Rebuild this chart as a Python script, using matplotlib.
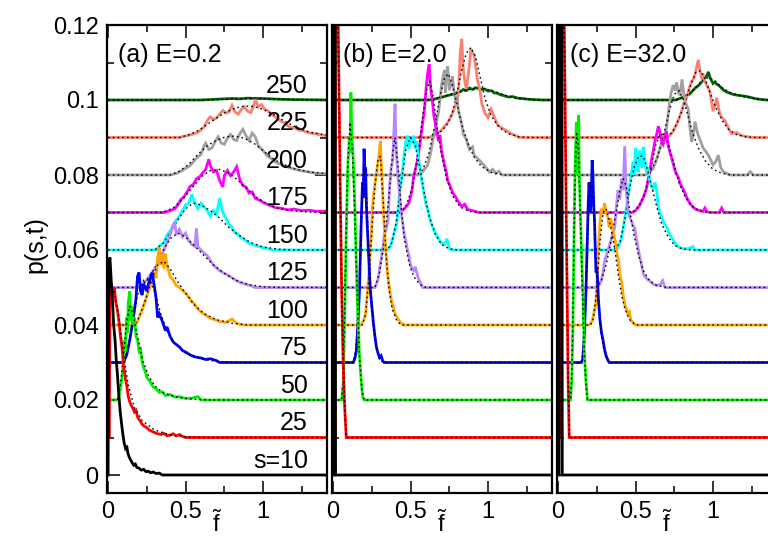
import matplotlib.pyplot as plt
import numpy as np

plt.rcParams['font.family'] = ['Liberation Sans', 'DejaVu Sans']
plt.rcParams['mathtext.fontset'] = 'custom'
plt.rcParams['mathtext.rm'] = 'Liberation Sans'
plt.rcParams['mathtext.it'] = 'Liberation Sans:italic'

# sizes s, vertical shift of each curve, colours
s_labels = ['s=10', '25', '50', '75', '100', '125', '150', '175', '200', '225', '250']
shifts = [0.0, 0.01, 0.02, 0.03, 0.04, 0.05, 0.06, 0.07, 0.08, 0.09, 0.10]
colors = ['black', '#ff0000', '#00ee00', '#0000ff', '#ffa500', '#b888f8',
          '#00ffff', '#ff00ff', '#a0a0a0', '#fa8072', '#006400']
titles = ['(a) E=0.2', '(b) E=2.0', '(c) E=32.0']

# ---------------- panel (a) E=0.2, pairs (f, p) ----------------
a10 = [(0.0, 0.0), (0.005, 0.056), (0.012, 0.058), (0.02, 0.052), (0.028, 0.047), (0.036, 0.040),
       (0.045, 0.036), (0.052, 0.031), (0.06, 0.027), (0.068, 0.022), (0.078, 0.017), (0.086, 0.014),
       (0.095, 0.011), (0.104, 0.0085), (0.112, 0.0072), (0.12, 0.0078), (0.128, 0.0058), (0.136, 0.0048),
       (0.146, 0.0040), (0.156, 0.0032), (0.166, 0.0026), (0.176, 0.0029), (0.186, 0.0020), (0.2, 0.0018),
       (0.215, 0.0013), (0.23, 0.0015), (0.245, 0.0009), (0.26, 0.0010), (0.275, 0.0006), (0.29, 0.0008),
       (0.31, 0.0004), (0.33, 0.0005), (0.35, 0.0), (1.42, 0.0)]
a25 = [(0.0, 0.0), (0.008, 0.0), (0.012, 0.039), (0.02, 0.041), (0.03, 0.038), (0.04, 0.040), (0.05, 0.036),
       (0.06, 0.034), (0.07, 0.031), (0.08, 0.027), (0.09, 0.024), (0.1, 0.019), (0.11, 0.016), (0.12, 0.014),
       (0.13, 0.011), (0.14, 0.0095), (0.15, 0.0085), (0.16, 0.0078), (0.17, 0.0068), (0.18, 0.0072),
       (0.19, 0.0055), (0.2, 0.0048), (0.21, 0.0042), (0.22, 0.0035), (0.235, 0.0030), (0.25, 0.0026),
       (0.265, 0.0020), (0.28, 0.0017), (0.3, 0.0013), (0.32, 0.0010), (0.34, 0.0008), (0.36, 0.0011),
       (0.38, 0.0005), (0.40, 0.0006), (0.42, 0.0010), (0.44, 0.0004), (0.46, 0.0008), (0.48, 0.0003),
       (0.5, 0.0), (1.42, 0.0)]
a50 = [(0.0, 0.0), (0.06, 0.0), (0.07, 0.001), (0.08, 0.003), (0.09, 0.006), (0.1, 0.011), (0.105, 0.016),
       (0.11, 0.013), (0.12, 0.022), (0.125, 0.018), (0.13, 0.026), (0.14, 0.029), (0.145, 0.021),
       (0.15, 0.025), (0.16, 0.020), (0.17, 0.022), (0.18, 0.017), (0.19, 0.016), (0.2, 0.013),
       (0.21, 0.0135), (0.22, 0.010), (0.23, 0.0085), (0.24, 0.0075), (0.25, 0.006), (0.27, 0.005),
       (0.29, 0.0035), (0.31, 0.003), (0.33, 0.002), (0.35, 0.0022), (0.37, 0.0012), (0.4, 0.0015),
       (0.43, 0.0008), (0.46, 0.0009), (0.5, 0.0004), (0.54, 0.0005), (0.58, 0.0009), (0.6, 0.0), (1.42, 0.0)]
a75 = [(0.0, 0.0), (0.1, 0.0), (0.12, 0.002), (0.13, 0.004), (0.14, 0.006), (0.15, 0.0085), (0.16, 0.011),
       (0.17, 0.014), (0.18, 0.017), (0.19, 0.023), (0.2, 0.024), (0.21, 0.019), (0.22, 0.018), (0.23, 0.021),
       (0.24, 0.020), (0.25, 0.019), (0.26, 0.021), (0.27, 0.022), (0.285, 0.024), (0.3, 0.020), (0.31, 0.017),
       (0.32, 0.012), (0.33, 0.013), (0.35, 0.011), (0.37, 0.0085), (0.38, 0.0095), (0.4, 0.007),
       (0.42, 0.0055), (0.44, 0.0048), (0.46, 0.0042), (0.48, 0.0032), (0.5, 0.0028), (0.53, 0.002),
       (0.56, 0.0015), (0.6, 0.0012), (0.63, 0.0008), (0.66, 0.001), (0.7, 0.0005), (0.72, 0.0), (1.42, 0.0)]
a100 = [(0.0, 0.0), (0.18, 0.0), (0.2, 0.002), (0.22, 0.004), (0.24, 0.0065), (0.26, 0.009), (0.28, 0.011),
        (0.3, 0.014), (0.31, 0.0125), (0.32, 0.018), (0.33, 0.0205), (0.34, 0.016), (0.35, 0.019),
        (0.36, 0.015), (0.37, 0.019), (0.38, 0.016), (0.4, 0.013), (0.42, 0.012), (0.44, 0.0105),
        (0.46, 0.010), (0.48, 0.0092), (0.5, 0.0085), (0.52, 0.0075), (0.54, 0.0062), (0.56, 0.0055),
        (0.58, 0.0042), (0.6, 0.0035), (0.63, 0.0026), (0.66, 0.0018), (0.69, 0.0014), (0.72, 0.0009),
        (0.76, 0.0007), (0.8, 0.0016), (0.83, 0.0004), (0.87, 0.0), (1.42, 0.0)]
a125 = [(0.0, 0.0), (0.2, 0.0), (0.25, 0.002), (0.3, 0.005), (0.33, 0.007), (0.36, 0.010), (0.38, 0.012),
        (0.4, 0.014), (0.42, 0.0165), (0.43, 0.0175), (0.44, 0.014), (0.46, 0.0155), (0.48, 0.0135),
        (0.5, 0.0145), (0.52, 0.0125), (0.54, 0.0115), (0.56, 0.011), (0.57, 0.0158), (0.58, 0.0108),
        (0.6, 0.010), (0.62, 0.0092), (0.64, 0.0085), (0.66, 0.0072), (0.68, 0.006), (0.7, 0.0052),
        (0.72, 0.0045), (0.74, 0.004), (0.77, 0.0034), (0.8, 0.0026), (0.83, 0.0018), (0.86, 0.0012),
        (0.89, 0.0009), (0.92, 0.0005), (0.95, 0.0), (1.42, 0.0)]
a150 = [(0.0, 0.0), (0.31, 0.0), (0.33, 0.001), (0.36, 0.002), (0.38, 0.004), (0.4, 0.005), (0.42, 0.0065),
        (0.44, 0.008), (0.46, 0.009), (0.48, 0.0105), (0.5, 0.012), (0.52, 0.0125), (0.54, 0.0148),
        (0.56, 0.0125), (0.58, 0.011), (0.6, 0.0125), (0.62, 0.0115), (0.64, 0.0105), (0.66, 0.009),
        (0.68, 0.0105), (0.7, 0.0095), (0.72, 0.0138), (0.74, 0.010), (0.76, 0.0085), (0.78, 0.0068),
        (0.8, 0.006), (0.82, 0.0045), (0.84, 0.0042), (0.86, 0.0032), (0.88, 0.0028), (0.9, 0.002),
        (0.93, 0.0015), (0.96, 0.0011), (1.0, 0.0006), (1.03, 0.0004), (1.06, 0.0), (1.42, 0.0)]
a175 = [(0.0, 0.0), (0.36, 0.0), (0.4, 0.0005), (0.43, 0.001), (0.45, 0.002), (0.47, 0.0035), (0.49, 0.0042),
        (0.51, 0.0055), (0.53, 0.007), (0.55, 0.0075), (0.57, 0.009), (0.59, 0.0095), (0.61, 0.0105),
        (0.63, 0.0115), (0.65, 0.0142), (0.66, 0.0125), (0.68, 0.0108), (0.7, 0.0112), (0.72, 0.0085),
        (0.74, 0.0068), (0.75, 0.0098), (0.77, 0.0112), (0.79, 0.0098), (0.81, 0.0108), (0.83, 0.0122),
        (0.85, 0.0088), (0.87, 0.0072), (0.89, 0.0068), (0.91, 0.0052), (0.93, 0.0055), (0.95, 0.0038),
        (0.98, 0.0032), (1.01, 0.0025), (1.04, 0.002), (1.08, 0.0013), (1.12, 0.0011), (1.16, 0.0007),
        (1.2, 0.0009), (1.25, 0.0005), (1.3, 0.0006), (1.35, 0.0003), (1.42, 0.0004)]
a200 = [(0.0, 0.0), (0.4, 0.0), (0.44, 0.0004), (0.48, 0.0012), (0.5, 0.0018), (0.52, 0.0022), (0.54, 0.003),
        (0.56, 0.004), (0.58, 0.0048), (0.6, 0.0055), (0.62, 0.0078), (0.63, 0.0085), (0.65, 0.0068),
        (0.67, 0.0072), (0.69, 0.0088), (0.71, 0.0102), (0.73, 0.0085), (0.75, 0.0082), (0.77, 0.0098),
        (0.79, 0.0108), (0.81, 0.0095), (0.83, 0.0092), (0.85, 0.011), (0.87, 0.0122), (0.89, 0.0105),
        (0.91, 0.0092), (0.93, 0.0112), (0.95, 0.0102), (0.97, 0.0078), (1.0, 0.0065), (1.03, 0.005),
        (1.06, 0.0042), (1.09, 0.0032), (1.12, 0.0028), (1.16, 0.0021), (1.2, 0.0016), (1.24, 0.0012),
        (1.28, 0.0009), (1.32, 0.0006), (1.36, 0.0004), (1.42, 0.0003)]
a225 = [(0.0, 0.0), (0.46, 0.0), (0.5, 0.0004), (0.54, 0.0008), (0.57, 0.0012), (0.6, 0.002), (0.62, 0.0028),
        (0.64, 0.0045), (0.66, 0.0055), (0.68, 0.0048), (0.7, 0.0052), (0.72, 0.0062), (0.74, 0.0072),
        (0.76, 0.0065), (0.78, 0.0068), (0.8, 0.0086), (0.82, 0.0068), (0.84, 0.0062), (0.86, 0.0075),
        (0.88, 0.0082), (0.9, 0.007), (0.92, 0.0066), (0.94, 0.0085), (0.95, 0.0102), (0.97, 0.0082),
        (0.99, 0.0088), (1.01, 0.0076), (1.03, 0.0072), (1.05, 0.0064), (1.08, 0.0055), (1.11, 0.0045),
        (1.14, 0.0038), (1.17, 0.0028), (1.2, 0.0026), (1.23, 0.002), (1.26, 0.0018), (1.3, 0.0012),
        (1.34, 0.001), (1.38, 0.0006), (1.42, 0.0005)]
a250 = [(0.0, 0.0), (0.6, 0.0), (0.7, 0.0002), (0.8, 0.0004), (0.85, 0.0003), (0.9, 0.0005), (0.95, 0.0004),
        (1.0, 0.0004), (1.1, 0.0002), (1.2, 0.0001), (1.42, 0.0)]

a25_fit = [(0.0, 0.0), (0.01, 0.040), (0.04, 0.039), (0.07, 0.032), (0.1, 0.022), (0.13, 0.014), (0.17, 0.008),
           (0.22, 0.0045), (0.3, 0.002), (0.4, 0.0007), (0.5, 0.0002), (0.6, 0.0), (1.42, 0.0)]
a50_fit = [(0.0, 0.0), (0.06, 0.0), (0.08, 0.004), (0.1, 0.012), (0.12, 0.021), (0.14, 0.025), (0.16, 0.023),
           (0.19, 0.017), (0.22, 0.011), (0.26, 0.0065), (0.3, 0.0038), (0.36, 0.0018), (0.45, 0.0007),
           (0.55, 0.0002), (0.65, 0.0), (1.42, 0.0)]
a75_fit = [(0.0, 0.0), (0.1, 0.0), (0.13, 0.004), (0.16, 0.011), (0.19, 0.018), (0.23, 0.022), (0.27, 0.022),
           (0.3, 0.019), (0.34, 0.013), (0.38, 0.0085), (0.43, 0.005), (0.5, 0.0025), (0.6, 0.001),
           (0.7, 0.0003), (0.8, 0.0), (1.42, 0.0)]
a100_fit = [(0.0, 0.0), (0.17, 0.0), (0.2, 0.002), (0.24, 0.0065), (0.28, 0.012), (0.32, 0.016), (0.36, 0.017),
            (0.4, 0.015), (0.45, 0.0115), (0.5, 0.0085), (0.56, 0.0052), (0.62, 0.003), (0.7, 0.0014),
            (0.8, 0.0005), (0.9, 0.0), (1.42, 0.0)]
a125_fit = [(0.0, 0.0), (0.2, 0.0), (0.25, 0.002), (0.3, 0.005), (0.35, 0.0095), (0.4, 0.013), (0.45, 0.0145),
            (0.5, 0.0135), (0.56, 0.011), (0.62, 0.0085), (0.68, 0.006), (0.75, 0.0038), (0.82, 0.002),
            (0.9, 0.0008), (1.0, 0.0002), (1.1, 0.0), (1.42, 0.0)]
a150_fit = [(0.0, 0.0), (0.3, 0.0), (0.35, 0.0015), (0.4, 0.0045), (0.45, 0.008), (0.5, 0.011), (0.55, 0.0125),
            (0.6, 0.012), (0.66, 0.0105), (0.72, 0.0085), (0.78, 0.006), (0.85, 0.0038), (0.92, 0.002),
            (1.0, 0.0008), (1.1, 0.0002), (1.2, 0.0), (1.42, 0.0)]
a175_fit = [(0.0, 0.0), (0.35, 0.0), (0.42, 0.0012), (0.48, 0.0035), (0.54, 0.0065), (0.6, 0.0095),
            (0.66, 0.0112), (0.72, 0.0115), (0.78, 0.0105), (0.84, 0.0085), (0.9, 0.0062), (0.96, 0.004),
            (1.03, 0.0022), (1.1, 0.0011), (1.2, 0.0004), (1.3, 0.0001), (1.42, 0.0)]
a200_fit = [(0.0, 0.0), (0.4, 0.0), (0.46, 0.001), (0.52, 0.0028), (0.58, 0.0055), (0.64, 0.0078),
            (0.7, 0.0093), (0.76, 0.0102), (0.82, 0.0104), (0.88, 0.0098), (0.94, 0.0085), (1.0, 0.0065),
            (1.06, 0.0045), (1.12, 0.003), (1.2, 0.0017), (1.3, 0.0008), (1.42, 0.0003)]
a225_fit = [(0.0, 0.0), (0.46, 0.0), (0.52, 0.0007), (0.58, 0.0018), (0.64, 0.0035), (0.7, 0.0052),
            (0.76, 0.0068), (0.82, 0.0078), (0.88, 0.0084), (0.94, 0.0083), (1.0, 0.0075), (1.06, 0.0063),
            (1.12, 0.0048), (1.2, 0.003), (1.3, 0.0014), (1.42, 0.0006)]
a250_fit = [(0.0, 0.0), (0.6, 0.0), (0.8, 0.0003), (0.95, 0.0004), (1.1, 0.0002), (1.42, 0.0)]

# ---------------- panel (b) E=2.0 ----------------
b10 = [(0.0, 0.0), (0.003, 0.3), (0.01, 0.3), (0.016, 0.0), (1.42, 0.0)]
b25 = [(0.0, 0.0), (0.012, 0.0), (0.018, 0.2), (0.03, 0.12), (0.045, 0.07), (0.055, 0.04), (0.065, 0.02),
       (0.075, 0.008), (0.085, 0.0), (1.42, 0.0)]
b50 = [(0.0, 0.0), (0.055, 0.0), (0.065, 0.004), (0.075, 0.022), (0.085, 0.045), (0.095, 0.062), (0.105, 0.07),
       (0.11, 0.066), (0.115, 0.082), (0.12, 0.072), (0.13, 0.064), (0.14, 0.052), (0.15, 0.036), (0.16, 0.022),
       (0.17, 0.012), (0.18, 0.006), (0.19, 0.001), (0.2, 0.0), (1.42, 0.0)]
b75 = [(0.0, 0.0), (0.13, 0.0), (0.14, 0.001), (0.15, 0.003), (0.16, 0.01), (0.17, 0.019), (0.175, 0.027),
       (0.18, 0.035), (0.185, 0.042), (0.19, 0.048), (0.195, 0.044), (0.2, 0.057), (0.205, 0.05), (0.21, 0.052),
       (0.215, 0.042), (0.22, 0.037), (0.23, 0.028), (0.24, 0.0195), (0.25, 0.015), (0.26, 0.0106),
       (0.27, 0.007), (0.28, 0.004), (0.29, 0.0025), (0.3, 0.0013), (0.31, 0.0018), (0.32, 0.0005),
       (0.33, 0.0), (1.42, 0.0)]
b100 = [(0.0, 0.0), (0.18, 0.0), (0.2, 0.0015), (0.21, 0.003), (0.22, 0.008), (0.23, 0.013), (0.24, 0.019),
        (0.25, 0.027), (0.255, 0.032), (0.265, 0.036), (0.275, 0.039), (0.285, 0.042), (0.295, 0.045),
        (0.305, 0.049), (0.31, 0.044), (0.315, 0.04), (0.325, 0.03), (0.33, 0.027), (0.34, 0.02),
        (0.35, 0.014), (0.36, 0.011), (0.37, 0.008), (0.38, 0.006), (0.39, 0.0045), (0.4, 0.003),
        (0.42, 0.0015), (0.44, 0.0005), (0.46, 0.0), (1.42, 0.0)]
b125 = [(0.0, 0.0), (0.27, 0.0), (0.29, 0.002), (0.3, 0.005), (0.32, 0.01), (0.33, 0.014), (0.345, 0.016),
        (0.355, 0.018), (0.365, 0.027), (0.375, 0.032), (0.385, 0.034), (0.4, 0.049), (0.405, 0.04),
        (0.41, 0.035), (0.42, 0.029), (0.43, 0.0245), (0.44, 0.02), (0.45, 0.017), (0.46, 0.014),
        (0.47, 0.0125), (0.48, 0.01), (0.49, 0.0085), (0.5, 0.006), (0.51, 0.005), (0.52, 0.0045),
        (0.53, 0.0055), (0.54, 0.004), (0.55, 0.0025), (0.56, 0.0015), (0.58, 0.0), (1.42, 0.0)]
b150 = [(0.0, 0.0), (0.35, 0.0), (0.37, 0.001), (0.39, 0.004), (0.41, 0.007), (0.42, 0.011), (0.43, 0.0155),
        (0.44, 0.0185), (0.45, 0.022), (0.46, 0.026), (0.47, 0.029), (0.48, 0.0305), (0.49, 0.027),
        (0.5, 0.03), (0.51, 0.0285), (0.52, 0.0305), (0.53, 0.027), (0.54, 0.029), (0.55, 0.025),
        (0.56, 0.022), (0.57, 0.019), (0.58, 0.0165), (0.59, 0.0145), (0.6, 0.012), (0.61, 0.011),
        (0.62, 0.009), (0.63, 0.0075), (0.64, 0.0065), (0.66, 0.0045), (0.68, 0.003), (0.7, 0.0018),
        (0.72, 0.0015), (0.735, 0.003), (0.75, 0.0005), (0.77, 0.0), (1.42, 0.0)]
b175 = [(0.0, 0.0), (0.43, 0.0), (0.46, 0.001), (0.49, 0.0025), (0.51, 0.006), (0.52, 0.0097), (0.54, 0.013),
        (0.56, 0.018), (0.575, 0.023), (0.59, 0.0276), (0.6, 0.033), (0.61, 0.037), (0.62, 0.0395),
        (0.63, 0.033), (0.64, 0.03), (0.65, 0.026), (0.66, 0.0237), (0.67, 0.0215), (0.68, 0.019),
        (0.69, 0.0206), (0.7, 0.0165), (0.71, 0.0145), (0.72, 0.0125), (0.73, 0.011), (0.74, 0.0085),
        (0.75, 0.0076), (0.77, 0.0055), (0.79, 0.0042), (0.81, 0.0028), (0.83, 0.0016), (0.85, 0.0022),
        (0.87, 0.0008), (0.9, 0.0005), (0.94, 0.0), (1.42, 0.0)]
b200 = [(0.0, 0.0), (0.55, 0.0), (0.58, 0.001), (0.61, 0.0026), (0.63, 0.006), (0.65, 0.0105), (0.67, 0.0145),
        (0.68, 0.0166), (0.69, 0.02), (0.7, 0.024), (0.71, 0.0263), (0.72, 0.028), (0.725, 0.022),
        (0.73, 0.027), (0.74, 0.029), (0.75, 0.0226), (0.76, 0.024), (0.77, 0.0263), (0.78, 0.0226),
        (0.79, 0.02), (0.8, 0.0205), (0.81, 0.017), (0.83, 0.0137), (0.84, 0.011), (0.86, 0.0095),
        (0.88, 0.0068), (0.9, 0.0075), (0.91, 0.0053), (0.93, 0.0045), (0.95, 0.0037), (0.97, 0.0028),
        (0.99, 0.0018), (1.01, 0.0008), (1.03, 0.0015), (1.05, 0.0004), (1.07, 0.001), (1.09, 0.0), (1.42, 0.0)]
b225 = [(0.0, 0.0), (0.62, 0.0), (0.66, 0.0008), (0.7, 0.002), (0.72, 0.003), (0.74, 0.004), (0.76, 0.0055),
        (0.78, 0.0075), (0.8, 0.0095), (0.81, 0.013), (0.815, 0.017), (0.82, 0.022), (0.83, 0.0263),
        (0.84, 0.0184), (0.85, 0.015), (0.86, 0.013), (0.87, 0.016), (0.88, 0.0193), (0.89, 0.0236),
        (0.9, 0.0225), (0.91, 0.022), (0.92, 0.019), (0.93, 0.0158), (0.95, 0.012), (0.96, 0.009),
        (0.98, 0.0065), (1.0, 0.0053), (1.02, 0.0075), (1.04, 0.0055), (1.06, 0.0035), (1.09, 0.0025),
        (1.12, 0.0018), (1.15, 0.001), (1.18, 0.0005), (1.2, 0.0), (1.42, 0.0)]
b250 = [(0.0, 0.0), (0.62, 0.0), (0.66, 0.0003), (0.7, 0.0007), (0.74, 0.0012), (0.78, 0.0016), (0.8, 0.002),
        (0.82, 0.0022), (0.84, 0.0028), (0.86, 0.0025), (0.88, 0.0032), (0.9, 0.0028), (0.92, 0.0033),
        (0.94, 0.003), (0.96, 0.0028), (0.98, 0.0029), (1.0, 0.0024), (1.02, 0.0025), (1.04, 0.0019),
        (1.06, 0.0018), (1.08, 0.0014), (1.1, 0.0012), (1.13, 0.0008), (1.16, 0.0009), (1.19, 0.0005),
        (1.22, 0.0004), (1.26, 0.0002), (1.3, 0.0001), (1.35, 0.0), (1.42, 0.0)]

b25_fit = [(0.0, 0.0), (0.012, 0.0), (0.02, 0.2), (0.03, 0.12), (0.045, 0.068), (0.06, 0.03), (0.075, 0.008),
           (0.085, 0.0), (1.42, 0.0)]
b50_fit = [(0.0, 0.0), (0.055, 0.0), (0.065, 0.006), (0.08, 0.035), (0.095, 0.063), (0.11, 0.074),
           (0.125, 0.066), (0.14, 0.05), (0.155, 0.03), (0.17, 0.012), (0.185, 0.003), (0.2, 0.0), (1.42, 0.0)]
b75_fit = [(0.0, 0.0), (0.13, 0.0), (0.15, 0.004), (0.17, 0.02), (0.185, 0.04), (0.2, 0.052), (0.215, 0.045),
           (0.23, 0.03), (0.25, 0.015), (0.27, 0.006), (0.29, 0.002), (0.32, 0.0), (1.42, 0.0)]
b100_fit = [(0.0, 0.0), (0.19, 0.0), (0.21, 0.003), (0.23, 0.012), (0.25, 0.025), (0.27, 0.037), (0.29, 0.044),
            (0.305, 0.045), (0.32, 0.036), (0.34, 0.02), (0.36, 0.01), (0.38, 0.0045), (0.41, 0.0012),
            (0.44, 0.0), (1.42, 0.0)]
b125_fit = [(0.0, 0.0), (0.27, 0.0), (0.3, 0.004), (0.33, 0.012), (0.36, 0.024), (0.385, 0.036), (0.4, 0.04),
            (0.42, 0.032), (0.44, 0.021), (0.46, 0.013), (0.49, 0.0065), (0.52, 0.003), (0.56, 0.0008),
            (0.6, 0.0), (1.42, 0.0)]
b150_fit = [(0.0, 0.0), (0.35, 0.0), (0.38, 0.002), (0.41, 0.008), (0.44, 0.018), (0.47, 0.027), (0.5, 0.030),
            (0.53, 0.028), (0.56, 0.022), (0.59, 0.015), (0.62, 0.009), (0.66, 0.0042), (0.7, 0.0015),
            (0.75, 0.0003), (0.8, 0.0), (1.42, 0.0)]
b175_fit = [(0.0, 0.0), (0.43, 0.0), (0.47, 0.0015), (0.51, 0.0065), (0.55, 0.016), (0.58, 0.026),
            (0.605, 0.033), (0.625, 0.035), (0.645, 0.031), (0.67, 0.023), (0.7, 0.0155), (0.73, 0.0095),
            (0.77, 0.0045), (0.82, 0.0015), (0.88, 0.0003), (0.94, 0.0), (1.42, 0.0)]
b200_fit = [(0.0, 0.0), (0.54, 0.0), (0.58, 0.0015), (0.62, 0.006), (0.66, 0.014), (0.69, 0.021), (0.72, 0.026),
            (0.745, 0.027), (0.77, 0.024), (0.8, 0.019), (0.83, 0.0135), (0.87, 0.0085), (0.91, 0.0048),
            (0.96, 0.0022), (1.02, 0.0007), (1.1, 0.0), (1.42, 0.0)]
b225_fit = [(0.0, 0.0), (0.62, 0.0), (0.68, 0.001), (0.73, 0.003), (0.77, 0.0065), (0.8, 0.012), (0.83, 0.018),
            (0.86, 0.0225), (0.89, 0.024), (0.92, 0.0215), (0.95, 0.016), (0.98, 0.0105), (1.02, 0.0058),
            (1.07, 0.0028), (1.13, 0.001), (1.2, 0.0002), (1.26, 0.0), (1.42, 0.0)]
b250_fit = [(0.0, 0.0), (0.6, 0.0), (0.7, 0.0008), (0.8, 0.002), (0.9, 0.003), (0.97, 0.0031), (1.05, 0.0022),
            (1.12, 0.0011), (1.2, 0.0004), (1.3, 0.0001), (1.42, 0.0)]

# ---------------- panel (c) E=32.0 ----------------
c10 = [(0.0, 0.0), (0.006, 0.0), (0.01, 0.3), (0.022, 0.3), (0.027, 0.0), (1.42, 0.0)]
c25 = [(0.0, 0.0), (0.012, 0.0), (0.022, 0.2), (0.035, 0.13), (0.045, 0.09), (0.055, 0.05), (0.065, 0.015),
       (0.072, 0.0), (1.42, 0.0)]
c50 = [(0.0, 0.0), (0.08, 0.0), (0.088, 0.005), (0.096, 0.02), (0.102, 0.04), (0.107, 0.056), (0.112, 0.066),
       (0.118, 0.074), (0.123, 0.06), (0.128, 0.07), (0.133, 0.076), (0.138, 0.058), (0.145, 0.048),
       (0.152, 0.038), (0.16, 0.029), (0.165, 0.02), (0.17, 0.012), (0.18, 0.005), (0.19, 0.0), (1.42, 0.0)]
c75 = [(0.0, 0.0), (0.15, 0.0), (0.16, 0.001), (0.17, 0.008), (0.18, 0.019), (0.185, 0.027), (0.19, 0.035),
       (0.195, 0.043), (0.2, 0.048), (0.205, 0.044), (0.21, 0.04), (0.215, 0.046), (0.22, 0.054),
       (0.225, 0.05), (0.23, 0.042), (0.235, 0.038), (0.24, 0.03), (0.245, 0.024), (0.25, 0.025),
       (0.255, 0.022), (0.26, 0.017), (0.27, 0.0115), (0.28, 0.008), (0.29, 0.006), (0.3, 0.0035),
       (0.31, 0.0018), (0.32, 0.0008), (0.33, 0.0), (1.42, 0.0)]
c100 = [(0.0, 0.0), (0.2, 0.0), (0.22, 0.001), (0.235, 0.004), (0.245, 0.006), (0.25, 0.01), (0.255, 0.016),
        (0.26, 0.02), (0.265, 0.024), (0.27, 0.027), (0.28, 0.031), (0.29, 0.03), (0.3, 0.0325), (0.31, 0.03),
        (0.32, 0.029), (0.33, 0.026), (0.34, 0.0285), (0.35, 0.026), (0.36, 0.024), (0.37, 0.022),
        (0.38, 0.019), (0.39, 0.017), (0.4, 0.013), (0.41, 0.0115), (0.42, 0.008), (0.43, 0.0055),
        (0.44, 0.0045), (0.45, 0.003), (0.46, 0.0035), (0.47, 0.0012), (0.48, 0.0008), (0.5, 0.0), (1.42, 0.0)]
c125 = [(0.0, 0.0), (0.25, 0.0), (0.27, 0.001), (0.28, 0.002), (0.29, 0.004), (0.3, 0.007), (0.315, 0.009),
        (0.333, 0.0115), (0.35, 0.014), (0.366, 0.016), (0.375, 0.021), (0.387, 0.026), (0.398, 0.0235),
        (0.41, 0.029), (0.42, 0.026), (0.43, 0.0377), (0.44, 0.026), (0.45, 0.021), (0.46, 0.019),
        (0.474, 0.0176), (0.485, 0.0165), (0.495, 0.0158), (0.505, 0.013), (0.517, 0.0105), (0.528, 0.008),
        (0.538, 0.0063), (0.55, 0.0037), (0.56, 0.003), (0.575, 0.0022), (0.59, 0.0018), (0.61, 0.001),
        (0.635, 0.0005), (0.66, 0.0008), (0.675, 0.0018), (0.69, 0.0), (1.42, 0.0)]
c150 = [(0.0, 0.0), (0.37, 0.0), (0.39, 0.001), (0.41, 0.0032), (0.425, 0.007), (0.44, 0.011), (0.45, 0.014),
        (0.463, 0.0174), (0.475, 0.021), (0.484, 0.0234), (0.492, 0.02), (0.5, 0.0272), (0.508, 0.022),
        (0.517, 0.0208), (0.525, 0.0265), (0.534, 0.025), (0.542, 0.022), (0.55, 0.0275), (0.56, 0.024),
        (0.57, 0.0208), (0.58, 0.022), (0.59, 0.019), (0.6, 0.017), (0.614, 0.0163), (0.625, 0.018),
        (0.635, 0.0165), (0.645, 0.012), (0.657, 0.0099), (0.67, 0.0085), (0.685, 0.007), (0.7, 0.0062),
        (0.715, 0.0045), (0.73, 0.0035), (0.743, 0.0027), (0.76, 0.0015), (0.775, 0.0009), (0.8, 0.0004),
        (0.84, 0.0003), (0.87, 0.0009), (0.88, 0.0), (1.42, 0.0)]
c175 = [(0.0, 0.0), (0.48, 0.0), (0.5, 0.0005), (0.527, 0.002), (0.55, 0.004), (0.57, 0.0063), (0.58, 0.0085),
        (0.592, 0.011), (0.603, 0.014), (0.614, 0.0164), (0.625, 0.019), (0.636, 0.0208), (0.647, 0.023),
        (0.657, 0.0216), (0.668, 0.019), (0.678, 0.0182), (0.69, 0.02), (0.7, 0.0216), (0.71, 0.018),
        (0.72, 0.0164), (0.73, 0.015), (0.743, 0.013), (0.76, 0.0105), (0.775, 0.0095), (0.79, 0.0075),
        (0.81, 0.006), (0.825, 0.0045), (0.84, 0.0032), (0.855, 0.0022), (0.87, 0.0015), (0.89, 0.0008),
        (0.916, 0.0005), (0.935, 0.0003), (0.948, 0.0012), (0.96, 0.0002), (0.98, 0.0), (1.04, 0.0),
        (1.056, 0.0012), (1.07, 0.0), (1.42, 0.0)]
c200 = [(0.0, 0.0), (0.56, 0.0), (0.59, 0.0008), (0.614, 0.0018), (0.635, 0.004), (0.657, 0.0071),
        (0.68, 0.0098), (0.7, 0.0124), (0.71, 0.016), (0.72, 0.0195), (0.73, 0.022), (0.743, 0.024),
        (0.755, 0.0225), (0.765, 0.0247), (0.776, 0.022), (0.786, 0.0213), (0.8, 0.0255), (0.81, 0.022),
        (0.82, 0.0195), (0.83, 0.0185), (0.84, 0.0176), (0.85, 0.013), (0.862, 0.0088), (0.873, 0.011),
        (0.884, 0.0142), (0.895, 0.012), (0.905, 0.0106), (0.92, 0.009), (0.937, 0.0071), (0.955, 0.0062),
        (0.97, 0.0053), (0.985, 0.004), (1.0, 0.0027), (1.017, 0.0035), (1.034, 0.0053), (1.05, 0.002),
        (1.066, 0.0009), (1.09, 0.0004), (1.11, 0.0), (1.22, 0.0), (1.24, 0.0009), (1.26, 0.0), (1.42, 0.0)]
c225 = [(0.0, 0.0), (0.7, 0.0), (0.72, 0.0005), (0.74, 0.0015), (0.765, 0.0035), (0.78, 0.005), (0.797, 0.007),
        (0.81, 0.009), (0.83, 0.0106), (0.845, 0.013), (0.862, 0.015), (0.873, 0.0155), (0.884, 0.0167),
        (0.895, 0.019), (0.905, 0.0207), (0.915, 0.018), (0.927, 0.0158), (0.938, 0.0165), (0.948, 0.015),
        (0.965, 0.0135), (0.98, 0.0123), (0.99, 0.0095), (1.0, 0.007), (1.012, 0.0085), (1.024, 0.0106),
        (1.035, 0.008), (1.045, 0.0062), (1.06, 0.0052), (1.078, 0.0044), (1.1, 0.0025), (1.12, 0.001),
        (1.14, 0.0012), (1.153, 0.0013), (1.17, 0.0008), (1.186, 0.0005), (1.22, 0.0002), (1.26, 0.0),
        (1.42, 0.0)]
c250 = [(0.0, 0.0), (0.76, 0.0), (0.786, 0.0004), (0.81, 0.0008), (0.83, 0.0012), (0.85, 0.0016), (0.87, 0.0025),
        (0.885, 0.0032), (0.895, 0.0035), (0.91, 0.004), (0.925, 0.0048), (0.937, 0.0053), (0.95, 0.006),
        (0.96, 0.0065), (0.97, 0.0075), (0.98, 0.006), (0.99, 0.0052), (1.0, 0.0044), (1.012, 0.0048),
        (1.024, 0.0042), (1.034, 0.004), (1.05, 0.0034), (1.066, 0.0027), (1.085, 0.0022), (1.11, 0.0018),
        (1.13, 0.0015), (1.153, 0.0013), (1.19, 0.0011), (1.22, 0.0009), (1.25, 0.0006), (1.28, 0.0003),
        (1.32, 0.0001), (1.35, 0.0), (1.42, 0.0)]

c25_fit = [(0.0, 0.0), (0.012, 0.0), (0.022, 0.2), (0.035, 0.13), (0.05, 0.07), (0.062, 0.025), (0.072, 0.0),
           (1.42, 0.0)]
c50_fit = [(0.0, 0.0), (0.08, 0.0), (0.09, 0.008), (0.1, 0.035), (0.11, 0.06), (0.12, 0.071), (0.13, 0.068),
           (0.14, 0.055), (0.15, 0.04), (0.16, 0.025), (0.17, 0.012), (0.18, 0.004), (0.19, 0.0), (1.42, 0.0)]
c75_fit = [(0.0, 0.0), (0.15, 0.0), (0.165, 0.005), (0.18, 0.02), (0.195, 0.038), (0.21, 0.048),
           (0.225, 0.046), (0.24, 0.033), (0.255, 0.02), (0.27, 0.011), (0.29, 0.0045), (0.31, 0.0012),
           (0.33, 0.0), (1.42, 0.0)]
c100_fit = [(0.0, 0.0), (0.21, 0.0), (0.23, 0.002), (0.25, 0.01), (0.27, 0.022), (0.29, 0.03), (0.31, 0.031),
            (0.33, 0.028), (0.35, 0.024), (0.37, 0.019), (0.39, 0.013), (0.41, 0.008), (0.43, 0.0045),
            (0.46, 0.0015), (0.5, 0.0), (1.42, 0.0)]
c125_fit = [(0.0, 0.0), (0.25, 0.0), (0.28, 0.002), (0.31, 0.006), (0.34, 0.012), (0.37, 0.019), (0.4, 0.026),
            (0.42, 0.029), (0.44, 0.027), (0.46, 0.021), (0.49, 0.014), (0.52, 0.0085), (0.55, 0.0045),
            (0.59, 0.0018), (0.64, 0.0005), (0.7, 0.0), (1.42, 0.0)]
c150_fit = [(0.0, 0.0), (0.36, 0.0), (0.4, 0.002), (0.43, 0.008), (0.46, 0.016), (0.49, 0.022), (0.52, 0.025),
            (0.55, 0.025), (0.58, 0.021), (0.61, 0.016), (0.64, 0.011), (0.67, 0.0068), (0.71, 0.0035),
            (0.75, 0.0013), (0.8, 0.0003), (0.86, 0.0), (1.42, 0.0)]
c175_fit = [(0.0, 0.0), (0.48, 0.0), (0.52, 0.0015), (0.56, 0.005), (0.6, 0.012), (0.63, 0.018), (0.66, 0.021),
            (0.69, 0.0205), (0.72, 0.017), (0.75, 0.0125), (0.78, 0.008), (0.82, 0.0042), (0.86, 0.0018),
            (0.91, 0.0005), (0.97, 0.0), (1.42, 0.0)]
c200_fit = [(0.0, 0.0), (0.56, 0.0), (0.6, 0.0012), (0.64, 0.0045), (0.68, 0.0105), (0.72, 0.0175),
            (0.75, 0.0215), (0.78, 0.0225), (0.81, 0.02), (0.84, 0.0155), (0.87, 0.011), (0.91, 0.0068),
            (0.95, 0.0038), (1.0, 0.0015), (1.06, 0.0004), (1.12, 0.0), (1.42, 0.0)]
c225_fit = [(0.0, 0.0), (0.7, 0.0), (0.74, 0.0015), (0.78, 0.005), (0.82, 0.0095), (0.86, 0.0145),
            (0.89, 0.0175), (0.92, 0.0178), (0.95, 0.0155), (0.98, 0.012), (1.02, 0.0078), (1.06, 0.0045),
            (1.1, 0.0022), (1.15, 0.0008), (1.22, 0.0001), (1.28, 0.0), (1.42, 0.0)]
c250_fit = [(0.0, 0.0), (0.76, 0.0), (0.82, 0.001), (0.88, 0.003), (0.93, 0.0052), (0.97, 0.006),
            (1.01, 0.0052), (1.06, 0.0032), (1.12, 0.0018), (1.2, 0.0009), (1.28, 0.0003), (1.35, 0.0),
            (1.42, 0.0)]

panel_data = [
    [a10, a25, a50, a75, a100, a125, a150, a175, a200, a225, a250],
    [b10, b25, b50, b75, b100, b125, b150, b175, b200, b225, b250],
    [c10, c25, c50, c75, c100, c125, c150, c175, c200, c225, c250],
]
panel_fits = [
    [None, a25_fit, a50_fit, a75_fit, a100_fit, a125_fit, a150_fit, a175_fit, a200_fit, a225_fit, a250_fit],
    [None, b25_fit, b50_fit, b75_fit, b100_fit, b125_fit, b150_fit, b175_fit, b200_fit, b225_fit, b250_fit],
    [None, c25_fit, c50_fit, c75_fit, c100_fit, c125_fit, c150_fit, c175_fit, c200_fit, c225_fit, c250_fit],
]

W, H = 768, 542
fig = plt.figure(figsize=(W / 100, H / 100), dpi=100)
lefts = [107, 332, 557]
title_x = [0.05, 0.05, 0.06]

for k in range(3):
    ax = fig.add_axes([lefts[k] / W, 49 / H, 220 / W, 468 / H])
    # lower s drawn last so it sits on top
    for i in reversed(range(len(shifts))):
        d = np.array(panel_data[k][i])
        ax.plot(d[:, 0], d[:, 1] + shifts[i], color=colors[i], lw=2.0, solid_joinstyle='miter')
        f = panel_fits[k][i]
        if f is not None:
            f = np.array(f)
            ax.plot(f[:, 0], f[:, 1] + shifts[i], color='black', lw=1.0,
                    linestyle=(0, (1.2, 2.2)))

    ax.set_xlim(-0.007, 1.413)
    ax.set_ylim(-0.0048, 0.12)
    ax.set_xticks([0, 0.5, 1])
    ax.set_xticklabels(['0', '0.5', '1'])
    ax.set_xticks([0.25, 0.75, 1.25], minor=True)
    ax.set_yticks([0, 0.02, 0.04, 0.06, 0.08, 0.1, 0.12])
    ax.set_yticks([0.01, 0.03, 0.05, 0.07, 0.09, 0.11], minor=True)
    if k == 0:
        ax.set_yticklabels(['0', '0.02', '0.04', '0.06', '0.08', '0.1', '0.12'])
    else:
        ax.set_yticklabels([])
    ax.tick_params(which='major', direction='in', top=True, right=True, length=9, width=1.1,
                   labelsize=17, pad=6)
    ax.tick_params(which='minor', direction='in', top=True, right=True, length=5, width=1.1)
    for sp in ax.spines.values():
        sp.set_linewidth(1.6)

    ax.text(title_x[k], 0.922, titles[k], transform=ax.transAxes, ha='left', va='baseline', fontsize=18)
    ax.text(0.5, -0.066, r'$\tilde{\mathrm{f}}$', transform=ax.transAxes, ha='center', va='center',
            fontsize=17)

    if k == 0:
        for i in range(len(shifts)):
            ax.text(1.29, shifts[i] + 0.0006, s_labels[i], ha='right', va='bottom', fontsize=18)

fig.text(35 / W, 1 - 245 / H, 'p(s,t)', rotation=90, ha='center', va='center', fontsize=18)

fig.savefig('out.png', dpi=100)
